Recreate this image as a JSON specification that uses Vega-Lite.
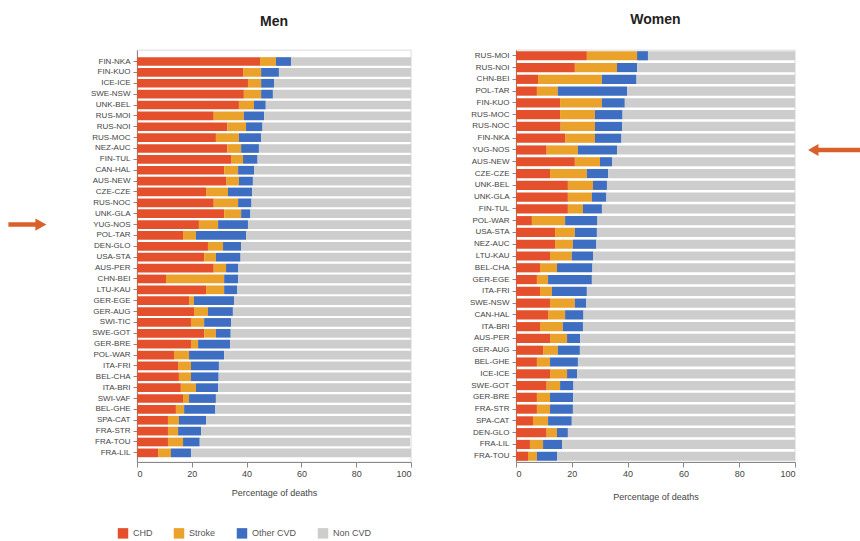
{
  "$schema": "https://vega.github.io/schema/vega-lite/v6.json",
  "background": "white",
  "padding": {"left": 8, "top": 12, "right": 5, "bottom": 5},
  "config": {
    "font": "Liberation Sans",
    "view": {"stroke": "#c4c4c4", "strokeWidth": 0.6},
    "axis": {"labelFontSize": 8, "labelColor": "#444444", "titleFontSize": 9, "titleFontWeight": "normal", "titleColor": "#444444", "domainColor": "#888888", "tickColor": "#888888", "grid": false},
    "title": {"fontSize": 14, "fontWeight": "bold", "color": "#222222"},
    "legend": {"labelFontSize": 9, "labelColor": "#555555"}
  },
  "datasets": {
    "causes": [
      {"cause": "CHD", "rank": 1},
      {"cause": "Stroke", "rank": 2},
      {"cause": "Other CVD", "rank": 3},
      {"cause": "Non CVD", "rank": 4}
    ],
    "men": [
      {"p": "FIN-NKA", "CHD": 44.9, "Stroke": 5.8, "Other CVD": 5.5, "Non CVD": 43.8},
      {"p": "FIN-KUO", "CHD": 38.7, "Stroke": 6.6, "Other CVD": 6.5, "Non CVD": 48.2},
      {"p": "ICE-ICE", "CHD": 40.5, "Stroke": 4.8, "Other CVD": 4.7, "Non CVD": 50.0},
      {"p": "SWE-NSW", "CHD": 39.0, "Stroke": 6.3, "Other CVD": 4.3, "Non CVD": 50.4},
      {"p": "UNK-BEL", "CHD": 37.2, "Stroke": 5.5, "Other CVD": 4.3, "Non CVD": 53.0},
      {"p": "RUS-MOI", "CHD": 28.0, "Stroke": 11.0, "Other CVD": 7.4, "Non CVD": 53.6},
      {"p": "RUS-NOI", "CHD": 33.0, "Stroke": 6.8, "Other CVD": 6.0, "Non CVD": 54.2},
      {"p": "RUS-MOC", "CHD": 28.8, "Stroke": 8.4, "Other CVD": 8.1, "Non CVD": 54.7},
      {"p": "NEZ-AUC", "CHD": 33.0, "Stroke": 5.0, "Other CVD": 6.5, "Non CVD": 55.5},
      {"p": "FIN-TUL", "CHD": 34.3, "Stroke": 4.4, "Other CVD": 5.3, "Non CVD": 56.0},
      {"p": "CAN-HAL", "CHD": 31.8, "Stroke": 5.1, "Other CVD": 5.8, "Non CVD": 57.3},
      {"p": "AUS-NEW", "CHD": 32.5, "Stroke": 4.7, "Other CVD": 5.1, "Non CVD": 57.7},
      {"p": "CZE-CZE", "CHD": 25.2, "Stroke": 8.0, "Other CVD": 8.8, "Non CVD": 58.0},
      {"p": "RUS-NOC", "CHD": 28.0, "Stroke": 8.9, "Other CVD": 4.9, "Non CVD": 58.2},
      {"p": "UNK-GLA", "CHD": 31.8, "Stroke": 6.2, "Other CVD": 3.4, "Non CVD": 58.6},
      {"p": "YUG-NOS", "CHD": 22.6, "Stroke": 7.0, "Other CVD": 10.9, "Non CVD": 59.5},
      {"p": "POL-TAR", "CHD": 16.8, "Stroke": 4.7, "Other CVD": 18.3, "Non CVD": 60.2},
      {"p": "DEN-GLO", "CHD": 25.9, "Stroke": 5.5, "Other CVD": 6.6, "Non CVD": 62.0},
      {"p": "USA-STA", "CHD": 24.5, "Stroke": 4.3, "Other CVD": 9.0, "Non CVD": 62.2},
      {"p": "AUS-PER", "CHD": 28.0, "Stroke": 4.5, "Other CVD": 4.5, "Non CVD": 63.0},
      {"p": "CHN-BEI", "CHD": 10.6, "Stroke": 21.2, "Other CVD": 5.1, "Non CVD": 63.1},
      {"p": "LTU-KAU", "CHD": 25.2, "Stroke": 6.6, "Other CVD": 4.7, "Non CVD": 63.5},
      {"p": "GER-EGE", "CHD": 19.0, "Stroke": 1.8, "Other CVD": 14.6, "Non CVD": 64.6},
      {"p": "GER-AUG", "CHD": 20.8, "Stroke": 5.1, "Other CVD": 9.1, "Non CVD": 65.0},
      {"p": "SWI-TIC", "CHD": 19.7, "Stroke": 4.8, "Other CVD": 9.8, "Non CVD": 65.7},
      {"p": "SWE-GOT", "CHD": 24.5, "Stroke": 4.3, "Other CVD": 5.4, "Non CVD": 65.8},
      {"p": "GER-BRE", "CHD": 19.7, "Stroke": 2.6, "Other CVD": 11.7, "Non CVD": 66.0},
      {"p": "POL-WAR", "CHD": 13.5, "Stroke": 5.5, "Other CVD": 12.8, "Non CVD": 68.2},
      {"p": "ITA-FRI", "CHD": 15.0, "Stroke": 4.7, "Other CVD": 10.2, "Non CVD": 70.1},
      {"p": "BEL-CHA", "CHD": 15.3, "Stroke": 4.4, "Other CVD": 10.1, "Non CVD": 70.2},
      {"p": "ITA-BRI", "CHD": 16.0, "Stroke": 5.5, "Other CVD": 8.1, "Non CVD": 70.4},
      {"p": "SWI-VAF", "CHD": 16.8, "Stroke": 2.2, "Other CVD": 9.8, "Non CVD": 71.2},
      {"p": "BEL-GHE", "CHD": 14.2, "Stroke": 3.0, "Other CVD": 11.4, "Non CVD": 71.4},
      {"p": "SPA-CAT", "CHD": 11.3, "Stroke": 4.0, "Other CVD": 9.9, "Non CVD": 74.8},
      {"p": "FRA-STR", "CHD": 11.3, "Stroke": 3.7, "Other CVD": 8.4, "Non CVD": 76.6},
      {"p": "FRA-TOU", "CHD": 11.3, "Stroke": 5.5, "Other CVD": 6.1, "Non CVD": 76.8},
      {"p": "FRA-LIL", "CHD": 7.7, "Stroke": 4.7, "Other CVD": 7.3, "Non CVD": 80.3}
    ],
    "women": [
      {"p": "RUS-MOI", "CHD": 25.4, "Stroke": 18.0, "Other CVD": 3.9, "Non CVD": 52.7},
      {"p": "RUS-NOI", "CHD": 21.1, "Stroke": 15.1, "Other CVD": 7.2, "Non CVD": 56.6},
      {"p": "CHN-BEI", "CHD": 7.9, "Stroke": 22.9, "Other CVD": 12.4, "Non CVD": 56.8},
      {"p": "POL-TAR", "CHD": 7.5, "Stroke": 7.5, "Other CVD": 24.8, "Non CVD": 60.2},
      {"p": "FIN-KUO", "CHD": 15.8, "Stroke": 15.0, "Other CVD": 8.2, "Non CVD": 61.0},
      {"p": "RUS-MOC", "CHD": 15.8, "Stroke": 12.5, "Other CVD": 9.9, "Non CVD": 61.8},
      {"p": "RUS-NOC", "CHD": 16.0, "Stroke": 12.3, "Other CVD": 9.7, "Non CVD": 62.0},
      {"p": "FIN-NKA", "CHD": 17.6, "Stroke": 10.7, "Other CVD": 9.5, "Non CVD": 62.2},
      {"p": "YUG-NOS", "CHD": 11.0, "Stroke": 11.2, "Other CVD": 14.0, "Non CVD": 63.8},
      {"p": "AUS-NEW", "CHD": 21.1, "Stroke": 9.0, "Other CVD": 4.3, "Non CVD": 65.6},
      {"p": "CZE-CZE", "CHD": 12.2, "Stroke": 13.2, "Other CVD": 7.6, "Non CVD": 67.0},
      {"p": "UNK-BEL", "CHD": 18.6, "Stroke": 9.0, "Other CVD": 5.0, "Non CVD": 67.4},
      {"p": "UNK-GLA", "CHD": 18.6, "Stroke": 8.6, "Other CVD": 5.2, "Non CVD": 67.6},
      {"p": "FIN-TUL", "CHD": 18.6, "Stroke": 5.4, "Other CVD": 6.8, "Non CVD": 69.2},
      {"p": "POL-WAR", "CHD": 5.7, "Stroke": 11.9, "Other CVD": 11.6, "Non CVD": 70.8},
      {"p": "USA-STA", "CHD": 14.0, "Stroke": 7.1, "Other CVD": 7.9, "Non CVD": 71.0},
      {"p": "NEZ-AUC", "CHD": 14.0, "Stroke": 6.4, "Other CVD": 8.4, "Non CVD": 71.2},
      {"p": "LTU-KAU", "CHD": 12.2, "Stroke": 7.8, "Other CVD": 7.6, "Non CVD": 72.4},
      {"p": "BEL-CHA", "CHD": 8.6, "Stroke": 6.1, "Other CVD": 12.7, "Non CVD": 72.6},
      {"p": "GER-EGE", "CHD": 7.5, "Stroke": 4.0, "Other CVD": 15.7, "Non CVD": 72.8},
      {"p": "ITA-FRI", "CHD": 8.6, "Stroke": 4.3, "Other CVD": 12.5, "Non CVD": 74.6},
      {"p": "SWE-NSW", "CHD": 12.2, "Stroke": 8.9, "Other CVD": 4.1, "Non CVD": 74.8},
      {"p": "CAN-HAL", "CHD": 11.5, "Stroke": 6.1, "Other CVD": 6.6, "Non CVD": 75.8},
      {"p": "ITA-BRI", "CHD": 8.6, "Stroke": 8.2, "Other CVD": 7.2, "Non CVD": 76.0},
      {"p": "AUS-PER", "CHD": 12.2, "Stroke": 6.1, "Other CVD": 4.7, "Non CVD": 77.0},
      {"p": "GER-AUG", "CHD": 9.7, "Stroke": 5.3, "Other CVD": 7.9, "Non CVD": 77.1},
      {"p": "BEL-GHE", "CHD": 7.5, "Stroke": 4.7, "Other CVD": 10.0, "Non CVD": 77.8},
      {"p": "ICE-ICE", "CHD": 12.2, "Stroke": 6.1, "Other CVD": 3.6, "Non CVD": 78.1},
      {"p": "SWE-GOT", "CHD": 11.0, "Stroke": 4.8, "Other CVD": 4.8, "Non CVD": 79.4},
      {"p": "GER-BRE", "CHD": 7.5, "Stroke": 4.7, "Other CVD": 8.3, "Non CVD": 79.5},
      {"p": "FRA-STR", "CHD": 7.5, "Stroke": 4.7, "Other CVD": 8.2, "Non CVD": 79.6},
      {"p": "SPA-CAT", "CHD": 6.1, "Stroke": 5.4, "Other CVD": 8.5, "Non CVD": 80.0},
      {"p": "DEN-GLO", "CHD": 11.0, "Stroke": 3.7, "Other CVD": 3.9, "Non CVD": 81.4},
      {"p": "FRA-LIL", "CHD": 5.0, "Stroke": 4.7, "Other CVD": 6.8, "Non CVD": 83.5},
      {"p": "FRA-TOU", "CHD": 4.3, "Stroke": 3.2, "Other CVD": 7.2, "Non CVD": 85.3}
    ],
    "arrowMen": [{"p": "YUG-NOS", "x": -40}],
    "arrowWomen": [{"p": "YUG-NOS", "x": 114}]
  },
  "hconcat": [
    {
      "title": {"text": "Men", "offset": 21},
      "width": 274,
      "height": 412,
      "layer": [
        {
          "data": {"name": "men"},
          "transform": [
            {"fold": ["CHD", "Stroke", "Other CVD", "Non CVD"], "as": ["cause", "value"]},
            {"lookup": "cause", "from": {"data": {"name": "causes"}, "key": "cause", "fields": ["rank"]}}
          ],
          "mark": {"type": "bar"},
          "encoding": {
            "y": {"field": "p", "type": "nominal", "sort": null, "title": null, "scale": {"paddingInner": 0.2, "paddingOuter": 0.55, "align": 0.6}, "axis": {"labelPadding": 3, "tickSize": 4}},
            "x": {"field": "value", "type": "quantitative", "stack": "zero", "scale": {"domain": [0, 100], "nice": false}, "title": "Percentage of deaths", "axis": {"values": [0, 20, 40, 60, 80, 100], "tickSize": 5, "labelFontSize": 9, "titlePadding": 10}},
            "color": {"field": "cause", "type": "nominal", "sort": ["CHD", "Stroke", "Other CVD", "Non CVD"], "scale": {"domain": ["CHD", "Stroke", "Other CVD", "Non CVD"], "range": ["#e4502c", "#eaa22a", "#3d6ec2", "#cdcdcd"]}, "legend": {"title": null, "orient": "none", "legendX": -20, "legendY": 477, "direction": "horizontal", "symbolType": "square", "symbolSize": 110, "columnPadding": 20}},
            "order": {"field": "rank", "type": "quantitative", "sort": "ascending"}
          }
        },
        {
          "data": {"name": "arrowMen"},
          "mark": {"type": "point", "filled": true, "color": "#d9602a", "opacity": 1, "size": 1444, "shape": "M-1,-0.12 L0.42,-0.12 L0.42,-0.32 L1,0 L0.42,0.32 L0.42,0.12 L-1,0.12 Z"},
          "encoding": {
            "x": {"field": "x", "type": "quantitative"},
            "y": {"field": "p", "type": "nominal", "sort": null}
          }
        }
      ]
    },
    {
      "title": {"text": "Women", "offset": 23},
      "width": 279,
      "height": 412,
      "layer": [
        {
          "data": {"name": "women"},
          "transform": [
            {"fold": ["CHD", "Stroke", "Other CVD", "Non CVD"], "as": ["cause", "value"]},
            {"lookup": "cause", "from": {"data": {"name": "causes"}, "key": "cause", "fields": ["rank"]}}
          ],
          "mark": {"type": "bar"},
          "encoding": {
            "y": {"field": "p", "type": "nominal", "sort": null, "title": null, "scale": {"paddingInner": 0.22, "paddingOuter": 0.1}, "axis": {"labelPadding": 3, "tickSize": 4}},
            "x": {"field": "value", "type": "quantitative", "stack": "zero", "scale": {"domain": [0, 100], "nice": false}, "title": "Percentage of deaths", "axis": {"values": [0, 20, 40, 60, 80, 100], "tickSize": 5, "labelFontSize": 9, "titlePadding": 14}},
            "color": {"field": "cause", "type": "nominal", "sort": ["CHD", "Stroke", "Other CVD", "Non CVD"], "scale": {"domain": ["CHD", "Stroke", "Other CVD", "Non CVD"], "range": ["#e4502c", "#eaa22a", "#3d6ec2", "#cdcdcd"]}, "legend": {"title": null, "orient": "none", "legendX": -20, "legendY": 477, "direction": "horizontal", "symbolType": "square", "symbolSize": 110, "columnPadding": 20}},
            "order": {"field": "rank", "type": "quantitative", "sort": "ascending"}
          }
        },
        {
          "data": {"name": "arrowWomen"},
          "mark": {"type": "point", "filled": true, "color": "#d9602a", "opacity": 1, "size": 2704, "shape": "M1,-0.09 L-0.6,-0.09 L-0.6,-0.23 L-1,0 L-0.6,0.23 L-0.6,0.09 L1,0.09 Z"},
          "encoding": {
            "x": {"field": "x", "type": "quantitative"},
            "y": {"field": "p", "type": "nominal", "sort": null}
          }
        }
      ]
    }
  ],
  "spacing": 57,
  "resolve": {"scale": {"color": "shared"}}
}
